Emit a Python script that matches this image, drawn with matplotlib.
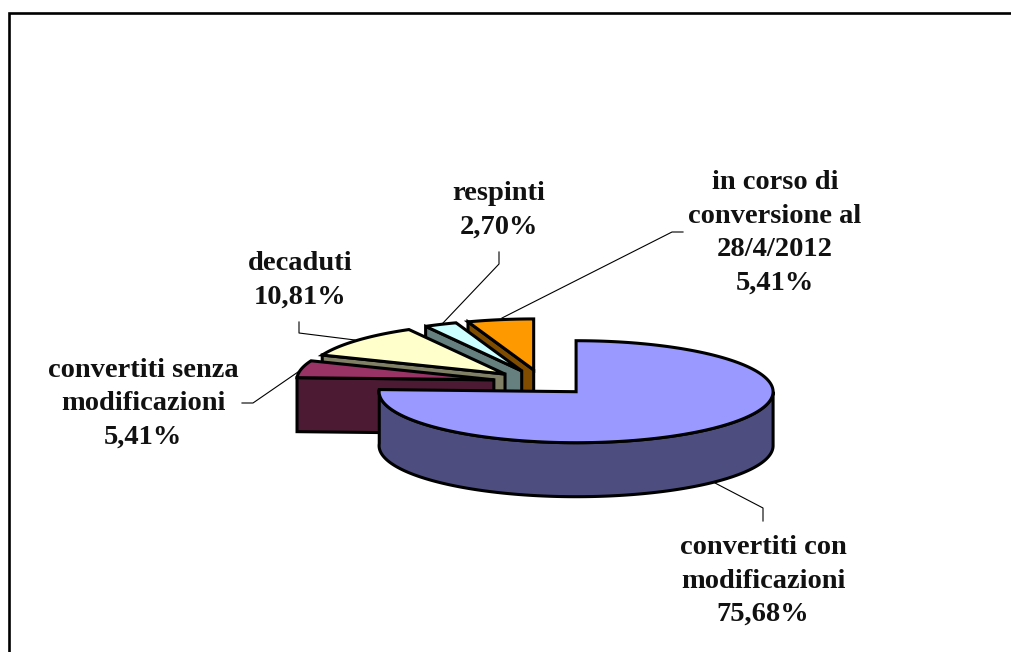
import numpy as np
import matplotlib
matplotlib.use("Agg")
import matplotlib.pyplot as plt
from matplotlib.patches import Polygon

categories = ["convertiti con\nmodificazioni", "convertiti senza\nmodificazioni", "decaduti", "respinti",
              "in corso di\nconversione al\n28/4/2012"]
shares = [75.68, 5.41, 10.81, 2.70, 5.41]
share_labels = ["75,68%", "5,41%", "10,81%", "2,70%", "5,41%"]
top_colors = ["#9999FF", "#993366", "#FFFFCC", "#CCFFFF", "#FF9900"]
wall_colors = ["#4D4D80", "#4D1A33", "#808066", "#668080", "#804D00"]

CX, CY, RX, RY, DEPTH, EXPLODE = 542.0, 382.5, 197.0, 51.0, 54.0, 0.25
LW = 2.2

fig = plt.figure(figsize=(10.11, 6.52), dpi=100)
ax = fig.add_axes([0, 0, 1, 1])
ax.set_xlim(0, 1011)
ax.set_ylim(652, 0)
ax.axis("off")

ax.plot([9.3, 9.3, 1011], [652, 13.3, 13.3], color="black", lw=1.9, solid_joinstyle="miter")

edges = np.concatenate([[0], np.cumsum(shares)]) / sum(shares) * 360.0


def pt(ax0, ay0, deg):
    r = np.radians(deg)
    return ax0 + RX * np.sin(r), ay0 - RY * np.cos(r)


def draw_slice(i):
    a0, a1 = edges[i], edges[i + 1]
    mid = (a0 + a1) / 2
    mx, my = pt(0, 0, mid)
    ox, oy = CX + EXPLODE * mx, CY + EXPLODE * my
    arc = np.linspace(a0, a1, 200)
    xs, ys = pt(ox, oy, arc)
    kw = dict(edgecolor="black", lw=LW, joinstyle="miter")
    if i == 0:
        front = np.linspace(90, a1, 200)
        fx, fy = pt(ox, oy, front)
        wall = np.column_stack([np.r_[fx, fx[::-1]], np.r_[fy, fy[::-1] + DEPTH]])
        ax.add_patch(Polygon(wall, closed=True, facecolor=wall_colors[i], **kw))
    else:
        # the radial cut at the start angle faces the viewer
        sx, sy = pt(ox, oy, a0)
        wall = [(sx, sy), (ox, oy), (ox, oy + DEPTH), (sx, sy + DEPTH)]
        ax.add_patch(Polygon(wall, closed=True, facecolor=wall_colors[i], **kw))
    top = np.column_stack([np.r_[ox, xs], np.r_[oy, ys]])
    ax.add_patch(Polygon(top, closed=True, facecolor=top_colors[i], **kw))


for i in [4, 3, 2, 1, 0]:
    draw_slice(i)

leaders = [
    ([715, 763, 763], [483, 508, 521]),
    ([298, 253, 242], [372, 403, 403]),
    ([355, 299, 299], [340, 333, 322]),
    ([443, 499, 499], [323, 264, 252]),
    ([502, 672, 683], [318, 232, 232]),
]
for lx, ly in leaders:
    ax.plot(lx, ly, color="black", lw=0.8)

anchors = [(763, 581), (143, 404), (300, 280), (499, 210), (775, 233)]
for name, val, (x, y) in zip(categories, share_labels, anchors):
    ax.text(x, y, name + "\n" + val, ha="center", va="center", family="Liberation Serif",
            fontweight="bold", fontsize=20.5, linespacing=1.45, color="#111111")

fig.savefig("out.png", dpi=100)
